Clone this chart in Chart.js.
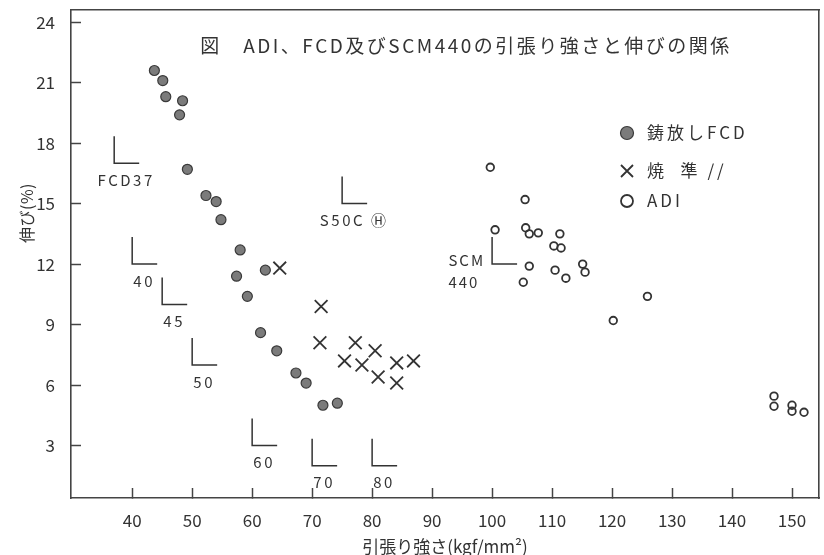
<!DOCTYPE html>
<html>
<head>
<meta charset="utf-8">
<script src="https://cdn.jsdelivr.net/npm/chart.js@4.4.1/dist/chart.umd.min.js"></script>
<style>
  html, body { margin: 0; padding: 0; background: #fff; }
  #wrap { width: 824px; height: 555px; }
</style>
</head>
<body>
<div id="wrap"><canvas id="grafik" width="824" height="555" style="width:824px;height:555px"></canvas></div>
<script>
// ======= Data =======
// 鋳放しFCD
const fcdX = [43.7, 45.1, 45.6, 48.4, 47.9, 49.2, 52.3, 54.0, 54.8, 58.0, 62.2, 57.4, 59.2, 61.4, 64.1, 67.3, 69.0, 71.8, 74.2];
const fcdY = [21.6, 21.1, 20.3, 20.1, 19.4, 16.7, 15.4, 15.1, 14.2, 12.7, 11.7, 11.4, 10.4, 8.6, 7.7, 6.6, 6.1, 5.0, 5.1];
// 焼準
const normX = [64.6, 71.5, 71.3, 77.2, 75.4, 78.3, 80.5, 81.0, 84.1, 84.1, 86.9];
const normY = [11.8, 9.9, 8.1, 8.1, 7.2, 7.0, 7.7, 6.4, 7.1, 6.1, 7.2];
// ADI
const adiX = [99.7, 105.5, 100.5, 105.6, 106.2, 107.7, 111.3, 110.3, 111.5, 106.2, 105.2, 110.5, 112.3, 115.1, 115.5, 120.2, 125.9, 147.0, 147.0, 150.0, 150.0, 152.0];
const adiY = [16.8, 15.2, 13.7, 13.8, 13.5, 13.55, 13.5, 12.9, 12.8, 11.9, 11.1, 11.7, 11.3, 12.0, 11.6, 9.2, 10.4, 5.45, 4.95, 5.0, 4.7, 4.65];

// 規格値 (引張り強さ, 伸び)
const specLabels = ['FCD37', '40', '45', '50', '60', '70', '80', 'S50C Ⓗ', 'SCM\n440'];
const specX = [37, 40, 45, 50, 60, 70, 80, 75, 100];
const specY = [17, 12, 10, 7, 3, 2, 2, 15, 12];

const seriesLabels = ['鋳放しFCD', '焼  準 //', 'ADI'];
const xTicks = [40, 50, 60, 70, 80, 90, 100, 110, 120, 130, 140, 150];
const yTicks = [3, 6, 9, 12, 15, 18, 21, 24];

const judul = '図　ADI、FCD及びSCM440の引張り強さと伸びの関係';
const judulY = '伸び(%)';
const judulX = '引張り強さ(kgf/mm²)';

// ======= Gaya =======
const FONT = '"Noto Sans CJK JP", "Noto Sans", sans-serif';
const INK = '#333';
const AXIS = '#444';

function tulis(ctx, text, x, y, size, align, spacing) {
    ctx.font = size + 'px ' + FONT;
    ctx.letterSpacing = spacing + 'px';
    ctx.textAlign = align;
    ctx.textBaseline = 'middle';
    ctx.fillText(text, x, y);
}

function garis(ctx, pts, w) {
    ctx.beginPath();
    ctx.setLineDash([]);
    ctx.lineWidth = w;
    ctx.strokeStyle = INK;
    ctx.moveTo(pts[0], pts[1]);
    for (let k = 2; k < pts.length; k += 2) ctx.lineTo(pts[k], pts[k + 1]);
    ctx.stroke();
}

function titik(ctx, style, x, y) {
    ctx.beginPath();
    if (style === 'fcd') {
        ctx.arc(x, y, 6.5, 0, Math.PI * 2);
        ctx.fillStyle = '#7b7b7b';
        ctx.fill();
        ctx.lineWidth = 1.2;
        ctx.strokeStyle = '#3a3a3a';
        ctx.stroke();
    } else if (style === 'norm') {
        ctx.moveTo(x - 6, y - 6); ctx.lineTo(x + 6, y + 6);
        ctx.moveTo(x + 6, y - 6); ctx.lineTo(x - 6, y + 6);
        ctx.lineWidth = 1.8;
        ctx.strokeStyle = INK;
        ctx.stroke();
    } else {
        ctx.arc(x, y, 6, 0, Math.PI * 2);
        ctx.lineWidth = 1.8;
        ctx.strokeStyle = INK;
        ctx.stroke();
    }
}

// ======= Plugin hiasan: tanda standar, judul, legenda =======
const hiasan = {
    id: 'hiasan',
    afterDraw(chart) {
        const ctx = chart.ctx;
        const sx = chart.scales.x;
        const sy = chart.scales.y;
        ctx.save();

        // tanda L untuk nilai standar
        ctx.fillStyle = INK;
        specX.forEach((vx, i) => {
            const px = sx.getPixelForValue(vx);
            const py = sy.getPixelForValue(specY[i]);
            garis(ctx, [px, py - 27, px, py, px + 25, py], 1.5);
            const baris = specLabels[i].split('\n');
            if (baris.length > 1) {
                ctx.font = '15px ' + FONT;
                ctx.letterSpacing = '2px';
                const x0 = px - 7 - ctx.measureText(baris[0]).width;
                tulis(ctx, baris[0], x0, py - 4, 15, 'left', 2);
                tulis(ctx, baris[1], x0, py + 18, 15, 'left', 2);
            } else {
                tulis(ctx, baris[0], px + 12, py + 17, 15, 'center', 2.5);
            }
        });

        // judul
        tulis(ctx, judul, 466, 46, 19, 'center', 2.5);

        // judul sumbu Y
        ctx.save();
        ctx.translate(27, 213);
        ctx.rotate(-Math.PI / 2);
        tulis(ctx, judulY, 0, 0, 16, 'center', 0.5);
        ctx.restore();

        // legenda
        const gaya = ['fcd', 'norm', 'adi'];
        const posY = [133, 171, 201];
        chart.data.datasets.forEach((ds, i) => {
            titik(ctx, gaya[i], 627, posY[i]);
            ctx.fillStyle = INK;
            tulis(ctx, ds.label, 647, posY[i], 17, 'left', 3);
        });
        ctx.restore();
    }
};

const gabung = (xs, ys) => xs.map((v, i) => ({ x: v, y: ys[i] }));

// grid hanya untuk tick kecil ke arah dalam
const tickDalam = { display: true, drawOnChartArea: false, drawTicks: true, tickLength: -10, tickWidth: 1.5, tickColor: AXIS };
const garisTepi = { display: true, color: AXIS, width: 1.6 };

Chart.defaults.font.family = FONT;
Chart.defaults.color = INK;

const ctx = document.getElementById('grafik').getContext('2d');
new Chart(ctx, {
    type: 'scatter',
    data: {
        datasets: [
            {
                label: seriesLabels[0],
                data: gabung(fcdX, fcdY),
                pointStyle: 'circle',
                pointRadius: 5,
                backgroundColor: '#7b7b7b',
                borderColor: '#3a3a3a',
                borderWidth: 1.2
            },
            {
                label: seriesLabels[1],
                data: gabung(normX, normY),
                pointStyle: 'crossRot',
                pointRadius: 9,
                borderColor: INK,
                borderWidth: 1.8
            },
            {
                label: seriesLabels[2],
                data: gabung(adiX, adiY),
                pointStyle: 'circle',
                pointRadius: 3.8,
                backgroundColor: 'rgba(0,0,0,0)',
                borderColor: INK,
                borderWidth: 1.8
            }
        ]
    },
    options: {
        responsive: false,
        animation: false,
        layout: { autoPadding: false, padding: { top: 10, right: 5, left: 0, bottom: 0 } },
        plugins: {
            legend: { display: false },
            tooltip: { enabled: false }
        },
        scales: {
            x: {
                type: 'linear',
                min: 29.8,
                max: 154.5,
                afterBuildTicks: s => { s.ticks = xTicks.map(v => ({ value: v })); },
                afterFit: s => { s.height = 57; s.paddingLeft = 0; s.paddingRight = 0; },
                ticks: { font: { size: 17 }, padding: 22, color: INK, maxRotation: 0 },
                grid: tickDalam,
                border: garisTepi,
                title: {
                    display: true,
                    text: judulX,
                    font: { size: 17, lineHeight: 1 },
                    padding: 0,
                    color: INK
                }
            },
            y: {
                type: 'linear',
                min: 0.4,
                max: 24.6,
                afterBuildTicks: s => { s.ticks = yTicks.map(v => ({ value: v })); },
                afterFit: s => { s.width = 71; s.paddingTop = 0; s.paddingBottom = 0; },
                ticks: { font: { size: 17 }, padding: 26, color: INK },
                grid: tickDalam,
                border: garisTepi
            },
            // bingkai atas dan kanan
            xAtas: {
                type: 'linear',
                position: 'top',
                min: 29.8,
                max: 154.5,
                ticks: { display: false },
                grid: { display: false, drawTicks: false },
                border: garisTepi,
                afterFit: s => { s.height = 0; s.paddingLeft = 0; s.paddingRight = 0; }
            },
            yKanan: {
                type: 'linear',
                position: 'right',
                min: 0.4,
                max: 24.6,
                ticks: { display: false },
                grid: { display: false, drawTicks: false },
                border: garisTepi,
                afterFit: s => { s.width = 0; s.paddingTop = 0; s.paddingBottom = 0; }
            }
        }
    },
    plugins: [hiasan]
});
</script>
</body>
</html>
